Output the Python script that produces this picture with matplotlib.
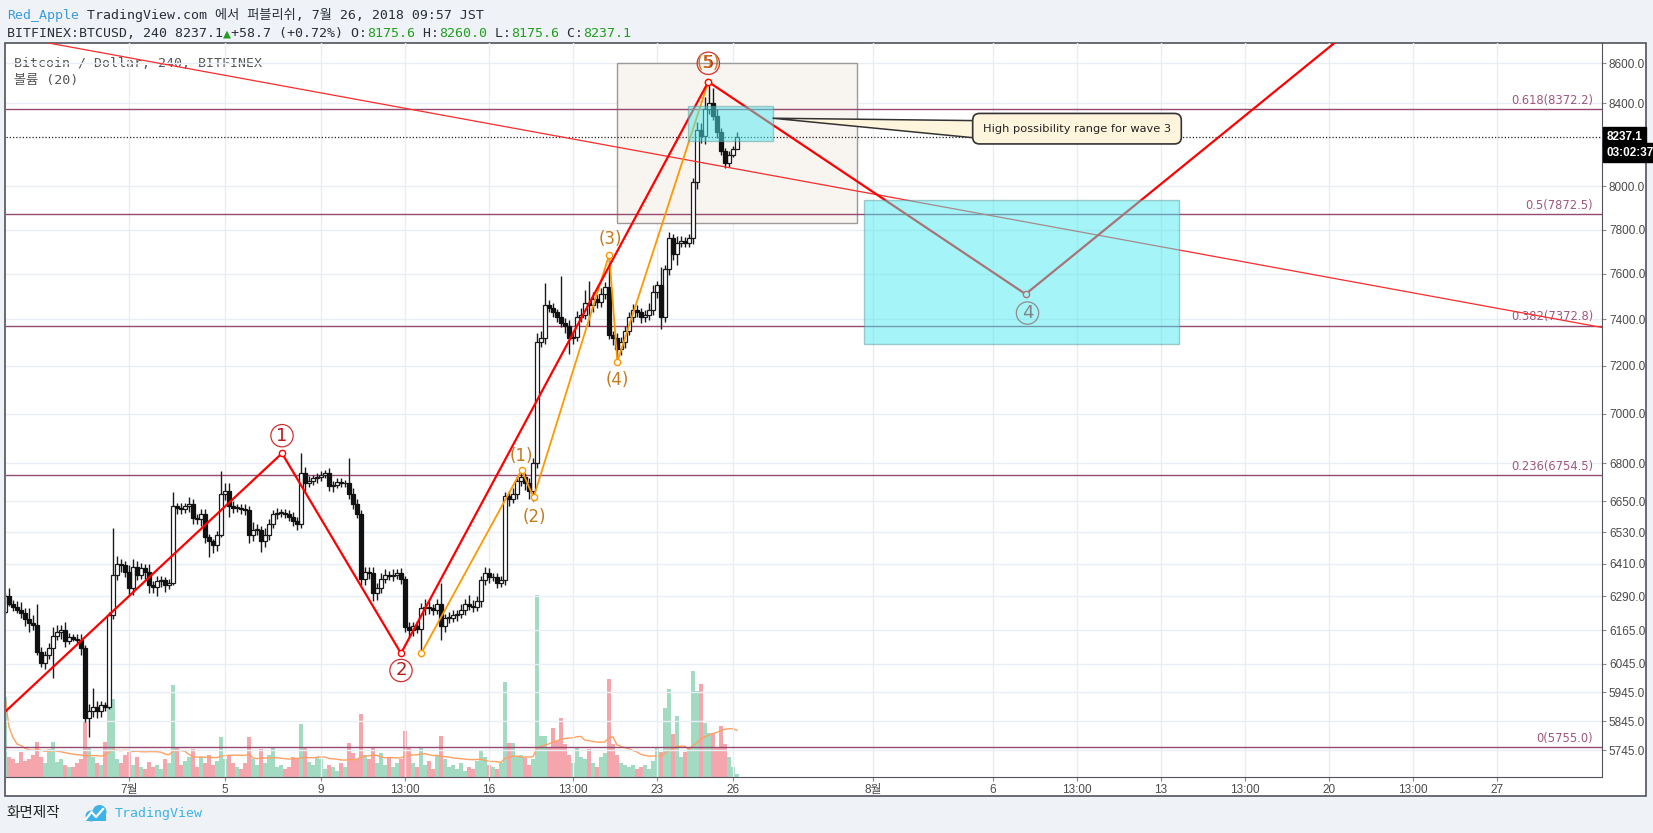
import numpy as np
import pandas as pd
import matplotlib
matplotlib.use('Agg')
import matplotlib.pyplot as plt
import matplotlib.dates as mdates
import matplotlib.ticker as mticker
from matplotlib.patches import Rectangle, Polygon, Circle
from matplotlib.transforms import blended_transform_factory

MONO = ['DejaVu Sans Mono', 'Noto Sans CJK KR', 'DejaVu Sans']
SANS = ['Liberation Sans', 'Noto Sans CJK KR', 'DejaVu Sans']

# ---- 4h candles, BITFINEX:BTCUSD ----
start_time = '2018-06-25 21:00'
first_open = 6230
closes = [
    6290, 6262, 6248, 6237, 6226, 6207, 6190, 6185, 6085, 6046,
    6075, 6100, 6145, 6160, 6165, 6125, 6140, 6135, 6130, 6100,
    5855, 5880, 5895, 5880, 5900, 5895, 6220, 6370, 6410, 6405,
    6380, 6320, 6400, 6370, 6395, 6380, 6330, 6325, 6345, 6350,
    6330, 6340, 6630, 6625, 6620, 6630, 6640, 6585, 6580, 6600,
    6510, 6495, 6480, 6520, 6680, 6690, 6630, 6625, 6625, 6620,
    6615, 6520, 6540, 6540, 6495, 6520, 6560, 6600, 6605, 6605,
    6600, 6590, 6575, 6560, 6760, 6720, 6730, 6740, 6745, 6755,
    6760, 6710, 6715, 6725, 6720, 6720, 6680, 6640, 6600, 6355,
    6380, 6375, 6300, 6320, 6355, 6370, 6365, 6370, 6375, 6355,
    6175, 6165, 6180, 6170, 6245, 6250, 6245, 6240, 6260, 6180,
    6210, 6210, 6220, 6225, 6240, 6260, 6255, 6250, 6270, 6350,
    6375, 6360, 6360, 6340, 6350, 6670, 6660, 6680, 6730, 6745,
    6720, 6690, 6800, 7300, 7320, 7460, 7450, 7430, 7410, 7385,
    7370, 7320, 7325, 7410, 7420, 7470, 7460, 7490, 7475, 7510,
    7540, 7330, 7320, 7270, 7300, 7350, 7410, 7440, 7430, 7410,
    7420, 7440, 7520, 7550, 7410, 7620, 7760, 7690, 7740, 7750,
    7740, 7760, 8020, 8270, 8240, 8370, 8400, 8340, 8260, 8170,
    8110, 8150, 8175.6, 8237.1,
]
upper_wick = [
    10, 30, 15, 25, 30, 20, 40, 30, 75, 20,
    15, 20, 30, 25, 20, 30, 15, 10, 15, 20,
    10, 25, 65, 20, 15, 10, 10, 175, 30, 20,
    15, 25, 30, 20, 20, 15, 30, 15, 20, 15,
    10, 15, 55, 15, 20, 15, 25, 20, 15, 20,
    20, 15, 10, 15, 90, 30, 30, 20, 15, 15,
    20, 15, 30, 20, 15, 25, 20, 15, 20, 15,
    15, 15, 20, 15, 80, 25, 20, 15, 15, 15,
    15, 20, 15, 15, 15, 15, 100, 20, 20, 15,
    20, 20, 25, 20, 20, 20, 15, 20, 15, 20,
    10, 20, 15, 20, 20, 30, 20, 15, 20, 80,
    15, 20, 20, 15, 20, 20, 35, 20, 20, 15,
    25, 20, 15, 15, 15, 15, 20, 20, 20, 25,
    15, 20, 20, 40, 30, 100, 25, 20, 15, 180,
    20, 25, 20, 25, 30, 60, 100, 30, 20, 25,
    25, 140, 20, 20, 25, 20, 20, 25, 20, 20,
    20, 30, 30, 20, 80, 20, 30, 20, 30, 20,
    15, 20, 20, 40, 35, 60, 105, 76, 30, 20,
    15, 20, 15, 23,
]
lower_wick = [
    5, 10, 12, 10, 15, 25, 30, 20, 10, 12,
    20, 15, 107, 15, 25, 20, 10, 10, 15, 25,
    15, 65, 20, 25, 20, 15, 10, 15, 20, 25,
    20, 30, 25, 20, 15, 25, 30, 25, 35, 20,
    25, 15, 10, 25, 20, 15, 20, 25, 20, 25,
    20, 60, 30, 20, 10, 25, 40, 20, 15, 20,
    20, 30, 25, 20, 40, 20, 20, 15, 20, 15,
    15, 15, 20, 20, 15, 30, 15, 15, 20, 15,
    15, 20, 25, 15, 15, 15, 20, 20, 15, 25,
    25, 20, 30, 25, 20, 15, 15, 20, 15, 20,
    15, 25, 20, 15, 80, 25, 20, 20, 15, 52,
    20, 20, 15, 20, 15, 20, 15, 20, 15, 20,
    20, 20, 15, 20, 15, 20, 30, 15, 20, 20,
    25, 30, 40, 20, 20, 25, 20, 20, 20, 20,
    30, 70, 25, 20, 20, 20, 90, 30, 25, 20,
    20, 15, 30, 55, 25, 25, 20, 20, 20, 25,
    20, 25, 20, 25, 53, 20, 25, 30, 50, 20,
    20, 20, 25, 30, 35, 40, 20, 20, 30, 20,
    25, 20, 10, 0,
]
volumes = [
    80, 20, 18, 14, 25, 16, 18, 22, 35, 20,
    14, 28, 35, 15, 18, 12, 10, 10, 14, 18,
    55, 30, 20, 14, 12, 35, 78, 78, 18, 14,
    22, 25, 12, 20, 10, 8, 15, 10, 12, 8,
    18, 14, 92, 30, 12, 16, 20, 28, 10, 20,
    14, 22, 12, 16, 40, 18, 22, 14, 10, 8,
    14, 40, 18, 12, 28, 14, 22, 30, 10, 12,
    8, 10, 20, 18, 53, 30, 15, 12, 20, 18,
    8, 12, 10, 6, 14, 10, 34, 24, 18, 63,
    22, 18, 30, 14, 24, 12, 20, 10, 14, 18,
    46, 30, 14, 10, 30, 12, 16, 8, 22, 41,
    18, 10, 12, 8, 14, 6, 10, 8, 16, 26,
    20, 12, 10, 8, 14, 95, 34, 34, 20, 22,
    19, 12, 18, 182, 41, 41, 30, 49, 36, 59,
    33, 22, 14, 30, 20, 18, 28, 14, 10, 20,
    24, 98, 33, 22, 14, 12, 10, 12, 8, 10,
    12, 8, 16, 30, 25, 69, 88, 43, 61, 20,
    25, 30, 106, 86, 93, 54, 44, 43, 30, 51,
    33, 20, 10, 3,
]

price_ticks = [5745, 5845, 5945, 6045, 6165, 6290, 6410, 6530, 6650, 6800,
               7000, 7200, 7400, 7600, 7800, 8000, 8400, 8600]
time_ticks = ['2018-07-01 01:00', '2018-07-05 01:00', '2018-07-09 01:00', '2018-07-12 13:00',
              '2018-07-16 01:00', '2018-07-19 13:00', '2018-07-23 01:00', '2018-07-26 05:00',
              '2018-08-01 01:00', '2018-08-06 01:00', '2018-08-09 13:00', '2018-08-13 01:00',
              '2018-08-16 13:00', '2018-08-20 01:00', '2018-08-23 13:00', '2018-08-27 01:00']
time_labels = ['7월', '5', '9', '13:00', '16', '13:00', '23', '26',
               '8월', '6', '13:00', '13', '13:00', '20', '13:00', '27']

fib_ratios = ['0', '0.236', '0.382', '0.5', '0.618']
fib_prices = [5755.0, 6754.5, 7372.8, 7872.5, 8372.2]
last_price = 8237.1

# user drawings (Elliott wave counts, boxes, trendline)
red_wave_times = ['2018-06-25 19:00', '2018-07-07 10:00', '2018-07-12 09:00',
                  '2018-07-25 04:20', '2018-08-07 09:36', '2018-08-23 00:00']
red_wave_prices = [5870, 6840, 6082, 8507, 7510, 8980]
orange_wave_times = ['2018-07-13 05:24', '2018-07-17 09:36', '2018-07-17 21:36',
                     '2018-07-21 01:12', '2018-07-21 09:22', '2018-07-25 04:20']
orange_wave_prices = [6083, 6773, 6665, 7686, 7218, 8507]
red_labels = ['1', '2', '4', '5']
red_label_times = ['2018-07-07 10:00', '2018-07-12 09:00', '2018-08-07 11:30', '2018-07-25 04:20']
red_label_prices = [6911, 6021, 7427, 8600]
orange_labels = ['(1)', '(2)', '(3)', '(4)', '(5)']
orange_label_times = ['2018-07-17 09:36', '2018-07-17 22:05', '2018-07-21 02:00',
                      '2018-07-21 09:36', '2018-07-25 04:20']
orange_label_prices = [6830, 6587, 7756, 7141, 8600]
trend_times = ['2018-07-20 16:00', '2018-08-31 08:00']
trend_prices = [8202, 7366]


def tnum(s):
    return mdates.date2num(pd.Timestamp(s).to_pydatetime())


times = pd.date_range(start_time, periods=len(closes), freq='4h')
x = mdates.date2num(times.to_pydatetime())
c = np.array(closes, float)
o = np.r_[first_open, c[:-1]]
hi = np.maximum(o, c) + np.array(upper_wick)
lo = np.minimum(o, c) - np.array(lower_wick)
up = c >= o

W, H = 1653, 833
fig = plt.figure(figsize=(W / 100, H / 100), dpi=100)
fig.patch.set_facecolor('#eff2f6')

# background layer in pixel coordinates
bg = fig.add_axes([0, 0, 1, 1])
bg.set_xlim(0, W)
bg.set_ylim(H, 0)
bg.axis('off')
bg.add_patch(Rectangle((4.5, 42.5), 1641.5, 753.5, fc='white', ec='#50535e', lw=1.2))

rect = [6 / W, (H - 777) / H, (1602 - 6) / W, (777 - 43) / H]
vax = fig.add_axes(rect)
ax = fig.add_axes(rect, sharex=vax)
ax.patch.set_visible(False)
vax.patch.set_visible(False)
vax.axis('off')

# volume + MA(20)
vax.bar(x, volumes, width=0.15, color=np.where(up, '#a3dac2', '#f5a6ad'), lw=0)
vol_ma = pd.Series(volumes, dtype=float).rolling(20, min_periods=1).mean()
vax.plot(x, vol_ma, color='#ffa062', lw=1)
vax.set_ylim(0, 734)

# price axis
ax.set_yscale('log')
ax.set_ylim(5656, 8703)
ax.set_xlim(tnum('2018-06-25 22:00'), tnum('2018-08-31 10:00'))
ax.yaxis.tick_right()
ax.set_yticks(price_ticks)
ax.yaxis.set_minor_locator(mticker.NullLocator())
ax.set_yticklabels([f'{p:.1f}' for p in price_ticks])
ax.set_xticks([tnum(t) for t in time_ticks])
ax.set_xticklabels(time_labels)
ax.xaxis.set_minor_locator(mticker.NullLocator())
ax.grid(True, color='#e8eef4', lw=1)
ax.set_axisbelow(True)
ax.tick_params(axis='both', length=3, width=0.8, color='#8a8a8a',
               labelcolor='#4a4a4a', labelsize=8.5, pad=2)
for lab in ax.get_xticklabels() + ax.get_yticklabels():
    lab.set_family(SANS)
for s in ['top', 'left']:
    ax.spines[s].set_visible(False)
for s in ['right', 'bottom']:
    ax.spines[s].set_color('#50535e')

# fib levels
tr = blended_transform_factory(ax.transAxes, ax.transData)
for r, p in zip(fib_ratios, fib_prices):
    ax.axhline(p, color='#954a6f', lw=1, zorder=2)
    ax.text(0.9944, p * 1.0012, f'{r}({p:.1f})', transform=tr, ha='right', va='bottom',
            fontsize=8.3, color='#a0577e', zorder=2)

# drawing box behind candles
bx0, bx1 = tnum('2018-07-21 09:22'), tnum('2018-07-31 08:38')
ax.add_patch(Rectangle((bx0, 7832), bx1 - bx0, 8600 - 7832, fc='#f8f4f0', ec='#9a9a9a',
                       lw=1, zorder=1))

# candles
ax.vlines(x, lo, hi, color='#1a1a1a', lw=1.0, zorder=3)
body_bot = np.minimum(o, c)
body_h = np.maximum(np.abs(c - o), 2.5)
ax.bar(x[up], body_h[up], bottom=body_bot[up], width=0.13, color='white',
       edgecolor='#1a1a1a', lw=0.9, zorder=4)
ax.bar(x[~up], body_h[~up], bottom=body_bot[~up], width=0.13, color='#111111',
       edgecolor='#111111', lw=0.9, zorder=4)
ax.axhline(last_price, color='#222222', ls=(0, (1, 1.6)), lw=0.9, zorder=4)

# trend line and wave zigzags
ax.axline((tnum(trend_times[0]), trend_prices[0]), (tnum(trend_times[1]), trend_prices[1]),
          color='#ff2a2a', lw=0.9, zorder=5)
rx = [tnum(t) for t in red_wave_times]
ox = [tnum(t) for t in orange_wave_times]
ax.plot(ox, orange_wave_prices, color='#ff9800', lw=1.3, zorder=5)
ax.plot(rx, red_wave_prices, color='#ff0000', lw=1.6, zorder=5)
ax.plot(ox, orange_wave_prices, 'o', ms=4.5, mfc='white', mec='#ff9800', mew=1, zorder=6)
ax.plot(rx[1:5], red_wave_prices[1:5], 'o', ms=4.5, mfc='white', mec='#ff0000', mew=1, zorder=6)

for s, t, p in zip(red_labels, red_label_times, red_label_prices):
    ax.text(tnum(t), p, s, ha='center', va='center', fontsize=13, color='#b71c1c', zorder=6,
            bbox=dict(boxstyle='circle,pad=0.12', fc='none', ec='#d32f2f', lw=0.9))
for s, t, p in zip(orange_labels, orange_label_times, orange_label_prices):
    ax.text(tnum(t), p, s, ha='center', va='center', fontsize=12, color='#c47a1e', zorder=6)

# cyan target boxes (semi transparent, drawn over the lines)
cx0, cx1 = tnum('2018-07-24 08:24'), tnum('2018-07-27 20:38')
ax.add_patch(Rectangle((cx0, 8217), cx1 - cx0, 8388 - 8217, fc='#4deaf0', alpha=0.5,
                       ec='#5f9aa0', lw=1, zorder=7))
gx0, gx1 = tnum('2018-07-31 16:19'), tnum('2018-08-13 19:26')
ax.add_patch(Rectangle((gx0, 7295), gx1 - gx0, 7935 - 7295, fc='#4deaf0', alpha=0.5,
                       ec='#5f9aa0', lw=1, zorder=7))

# callout
wx_tip, wx_base = tnum('2018-07-27 20:38'), tnum('2018-08-05 12:00')
ax.add_patch(Polygon([(wx_tip, 8327), (wx_base, 8315), (wx_base, 8229)], closed=True,
                     fc='#fff4dc', ec='#333333', lw=1.1, zorder=8))
ax.text(tnum('2018-08-09 13:00'), 8276, 'High possibility range for wave 3', ha='center',
        va='center', fontsize=8.2, color='#222222', zorder=9,
        bbox=dict(boxstyle='round,pad=0.9,rounding_size=0.6', fc='#fff4dc', ec='#333333', lw=1.2))

# last price labels on the axis
ax.text(1.0028, last_price, f'{last_price:.1f}', transform=tr, ha='left', va='center',
        fontsize=8.5, color='white', family=SANS, fontweight='bold', clip_on=False, zorder=10,
        bbox=dict(boxstyle='square,pad=0.3', fc='black', ec='black'))
ax.annotate('03:02:37', xy=(1.0028, last_price), xycoords=tr, xytext=(0, -16),
            textcoords='offset pixels', ha='left', va='center', fontsize=8.5, color='white',
            family=SANS, fontweight='bold', annotation_clip=False, zorder=10,
            bbox=dict(boxstyle='square,pad=0.3', fc='black', ec='black'))

# legend texts inside the pane
bg.text(14, 63, 'Bitcoin / Dollar, 240, BITFINEX', fontsize=9.5, family=MONO,
        color='#555555', va='center')
bg.text(14, 80, '볼륨 (20)', fontsize=9.5, family=MONO, color='#555555', va='center')


def chain(x0, y0, pieces, size):
    prev = None
    for s, col in pieces:
        if prev is None:
            prev = bg.text(x0, y0, s, color=col, fontsize=size, family=MONO, va='bottom')
        else:
            prev = bg.annotate(s, xy=(1, 0), xycoords=prev, color=col, fontsize=size,
                               family=MONO, va='bottom', ha='left')


dark = '#2a2e39'
green = '#1f9e1f'
chain(7, 22, [('Red_Apple', '#3a9be0'),
              (' TradingView.com 에서 퍼블리쉬, 7월 26, 2018 09:57 JST', dark)], 9.5)
chain(7, 40, [('BITFINEX:BTCUSD, 240 8237.1', dark), ('▲', green),
              ('+58.7 (+0.72%) O:', dark), ('8175.6', green), (' H:', dark),
              ('8260.0', green), (' L:', dark), ('8175.6', green), (' C:', dark),
              ('8237.1', green)], 9.5)

# footer
bg.text(6, 813, '화면제작', fontsize=10.5, family=['Noto Sans CJK KR'], color='#222222',
        va='center')
bg.add_patch(Circle((91, 816), 5.5, color='#3db3e6', lw=0))
bg.add_patch(Circle((99.5, 812), 7, color='#3db3e6', lw=0))
bg.add_patch(Rectangle((86, 815), 20, 6, color='#3db3e6', lw=0))
bg.plot([86, 91.5, 96, 103], [819, 812, 817, 809], color='white', lw=1.6)
bg.text(115, 813, 'TradingView', fontsize=9.5, family=MONO, color='#3db3e6', va='center')

fig.savefig('out.png', dpi=100, facecolor=fig.get_facecolor())
